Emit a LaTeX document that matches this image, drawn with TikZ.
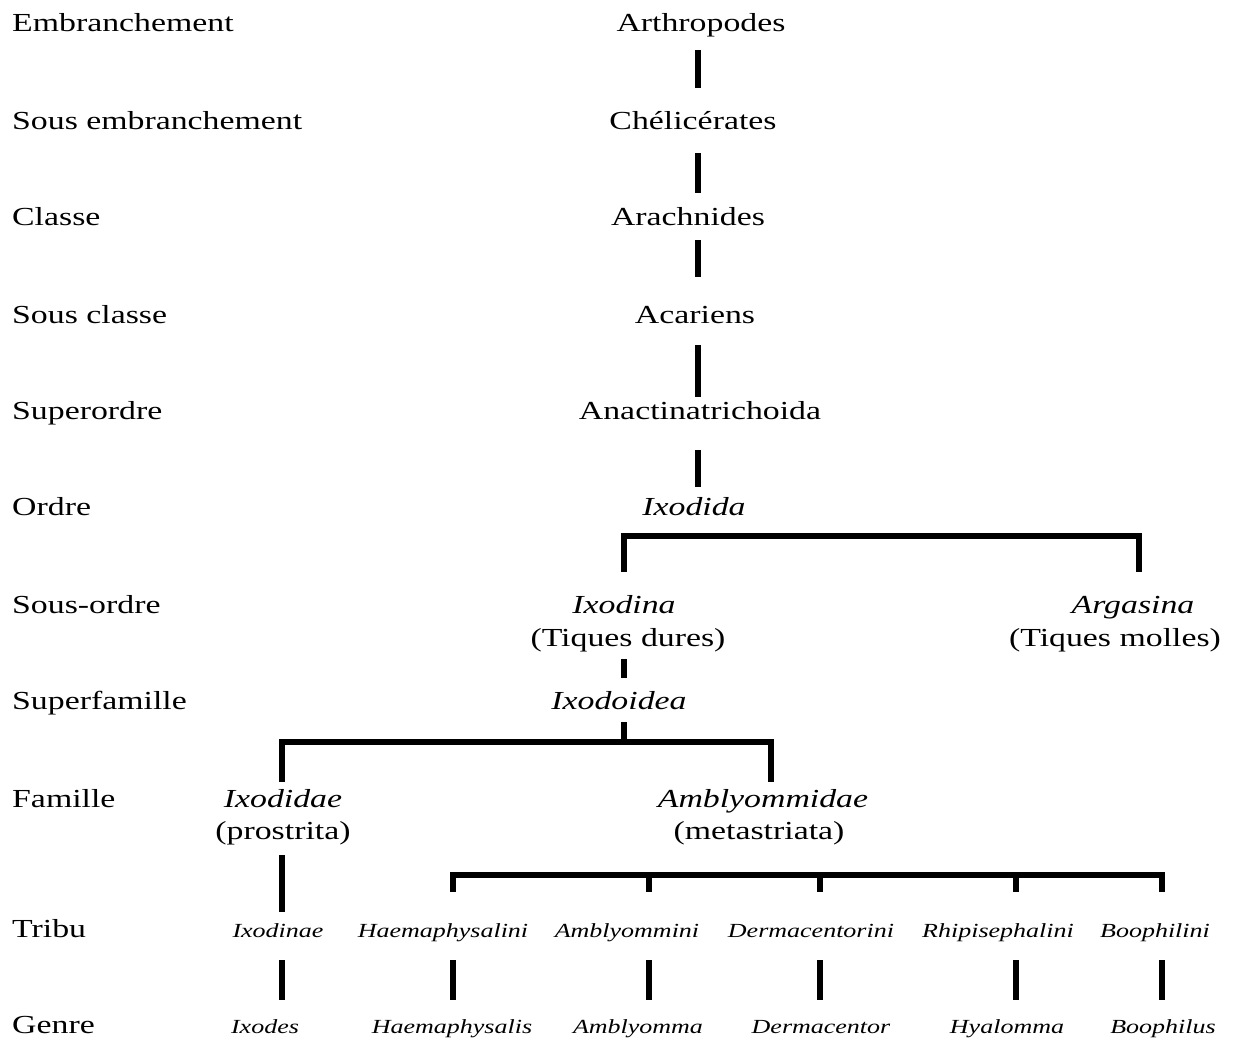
\documentclass[tikz,border=0pt]{standalone}
\usepackage{fontspec}
\setmainfont{Liberation Serif}[FakeStretch=1.3]
\usetikzlibrary{positioning, calc}

\begin{document}
\begin{tikzpicture}[x=1pt, y=-1pt,
    rank/.style={anchor=base west, inner sep=0pt, font=\fontsize{26}{33}\selectfont},
    taxon/.style={anchor=base, inner sep=0pt, text height=18pt, text depth=6pt,
                  font=\fontsize{26}{33}\selectfont},
    tribe/.style={anchor=base, inner sep=0pt, text height=14pt, text depth=5pt,
                  font=\fontsize{20}{24}\selectfont\itshape},
    bar/.style={line width=6pt, line join=miter}]

    \useasboundingbox (0,0) rectangle (1236,1039);

    % rank labels on the left
    \node[rank] (r1) at (12,31) {Embranchement};
    \node[rank] (r2) at (12,129) {Sous embranchement};
    \node[rank] (r3) at (12,225) {Classe};
    \node[rank] (r4) at (12,323) {Sous classe};
    \node[rank] (r5) at (12,419) {Superordre};
    \node[rank] (r6) at (12,515) {Ordre};
    \node[rank] (r7) at (12,613) {Sous-ordre};
    \node[rank] (r8) at (12,709) {Superfamille};
    \node[rank] (r9) at (12,807) {Famille};
    \node[rank] (r10) at (12,937) {Tribu};
    \node[rank] (r11) at (12,1033) {Genre};

    % columns of the bars
    \coordinate (spine) at (698,0);
    \coordinate (c1) at (282,0);
    \coordinate (c2) at (453,0);
    \coordinate (c3) at (649,0);
    \coordinate (c4) at (820,0);
    \coordinate (c5) at (1016,0);
    \coordinate (c6) at (1162,0);

    % main line
    \node[taxon] (arth) at (701,31) {Arthropodes};
    \node[taxon] (chel) at (693,129) {Chélicérates};
    \node[taxon] (arach) at (688,225) {Arachnides};
    \node[taxon] (acar) at (695,323) {Acariens};
    \node[taxon] (anac) at (700,419) {Anactinatrichoida};
    \node[taxon] (ixodida) at (694,515) {\itshape Ixodida};

    \node[taxon] (ixodina) at (624,613) {\itshape Ixodina};
    \node[taxon] (tdures) at (628,646) {(Tiques dures)};
    \node[taxon] (argasina) at (1133,613) {\itshape Argasina};
    \node[taxon] (tmolles) at (1115,646) {(Tiques molles)};
    \node[taxon] (ixodoidea) at (619,709) {\itshape Ixodoidea};

    \node[taxon] (ixodidae) at (283,807) {\itshape Ixodidae};
    \node[taxon] (prostr) at (283,839) {(prostrita)};
    \node[taxon] (amblyd) at (763,807) {\itshape Amblyommidae};
    \node[taxon] (metastr) at (759,839) {(metastriata)};

    % tribes
    \node[tribe] (ixodinae) at (278,937) {Ixodinae};
    \node[tribe] (haemi) at (443,937) {Haemaphysalini};
    \node[tribe] (amblyi) at (627,937) {Amblyommini};
    \node[tribe] (dermi) at (811,937) {Dermacentorini};
    \node[tribe] (rhipi) at (998,937) {Rhipisephalini};
    \node[tribe] (boophi) at (1155,937) {Boophilini};

    % genera
    \node[tribe] (ixodes) at (265,1033) {Ixodes};
    \node[tribe] (haemaphysalis) at (452,1033) {Haemaphysalis};
    \node[tribe] (amblyomma) at (638,1033) {Amblyomma};
    \node[tribe] (dermacentor) at (821,1033) {Dermacentor};
    \node[tribe] (hyalomma) at (1007,1033) {Hyalomma};
    \node[tribe] (boophilus) at (1163,1033) {Boophilus};

    % bars
    \foreach \a/\b/\sa/\sb in {arth/chel/13/23, chel/arach/18/14, arach/acar/9/28,
                               acar/anac/16/4, anac/ixodida/25/10}
        \draw[bar, shorten <=\sa pt, shorten >=\sb pt] (\a.south -| spine) -- (\b.north -| spine);

    \draw[bar, shorten <=23pt, shorten >=23pt] (ixodina.north) -- ++(0,-59)
        -| ([xshift=6pt]argasina.north);
    \draw[bar, shorten <=7pt, shorten >=13pt] (tdures.south -| ixodina) -- (ixodoidea.north -| ixodina);
    \draw[bar, shorten <=7pt] (ixodoidea.south -| ixodina) -- ++(0,27);
    \draw[bar, shorten <=7pt, shorten >=7pt] (ixodidae.north -| c1) -- ++(0,-47)
        -| ([xshift=8pt]amblyd.north);
    \draw[bar, shorten <=10pt, shorten >=11pt] (prostr.south -| c1) -- (ixodinae.north -| c1);

    \draw[bar, shorten <=31pt, shorten >=31pt] (haemi.north -| c2) -- ++(0,-48)
        -| (boophi.north -| c6);
    \foreach \t/\c in {amblyi/c3, dermi/c4, rhipi/c5}
        \draw[bar, shorten <=31pt] (\t.north -| \c) -- ++(0,-50);

    \foreach \t/\g/\c in {ixodinae/ixodes/c1, haemi/haemaphysalis/c2, amblyi/amblyomma/c3,
                          dermi/dermacentor/c4, rhipi/hyalomma/c5, boophi/boophilus/c6}
        \draw[bar, shorten <=18pt, shorten >=19pt] (\t.south -| \c) -- (\g.north -| \c);
\end{tikzpicture}
\end{document}
